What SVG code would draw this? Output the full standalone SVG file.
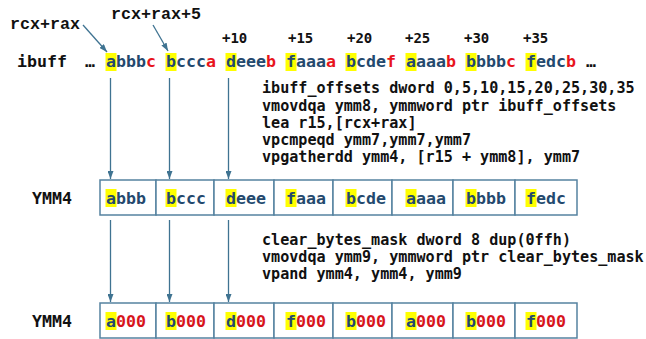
<svg xmlns="http://www.w3.org/2000/svg" width="646" height="339" viewBox="0 0 646 339">
  <defs>
    <marker id="arrow" viewBox="0 0 8 6" refX="8" refY="3" markerWidth="8" markerHeight="6" markerUnits="userSpaceOnUse" orient="auto">
      <path d="M0,0 L8,3 L0,6 Z" fill="#3f7391"/>
    </marker>
    <style>
      .lbl { font-family: "Liberation Mono", monospace; font-weight: bold; font-size: 16.7px; fill: #111; }
      .mono { font-family: "DejaVu Sans Mono", monospace; font-weight: bold; }
      .reg { font-size: 16.6px; fill: #111; }
      .off { font-size: 14px; fill: #111; }
      .code { font-size: 15.1px; fill: #111; }
      .data { font-size: 16.6px; fill: #24496e; }
      .red { fill: #e8141c; }
      .zero { fill: #d7141c; }
      .hl { fill: #ffff00; }
      .cell { fill: #fff; stroke: #5582a0; stroke-width: 1.5; }
      .conn { stroke: #3f7391; stroke-width: 1.3; fill: none; marker-end: url(#arrow); }
    </style>
  </defs>

  <!-- address labels -->
  <g id="label-rcx-rax"><text class="lbl" x="10" y="29">rcx+rax</text></g>
  <g id="label-rcx-rax-5"><text class="lbl" x="111" y="19">rcx+rax+5</text></g>

  <!-- offsets above the buffer -->
  <g id="offsets" class="mono off">
    <text x="222" y="43">+10</text>
    <text x="288" y="43">+15</text>
    <text x="347" y="43">+20</text>
    <text x="405" y="43">+25</text>
    <text x="464" y="43">+30</text>
    <text x="523" y="43">+35</text>
  </g>

  <!-- ibuff byte stream -->
  <g id="ibuff-label"><text class="mono reg" x="17" y="67">ibuff</text></g>
  <g id="ibuff-ellipsis-left"><text class="mono reg" x="85" y="67">…</text></g>
  <g id="ibuff-ellipsis-right"><text class="mono reg" x="586" y="67">…</text></g>

  <g id="ibuff-0"><rect class="hl" x="105.5" y="53" width="11" height="18"/><text class="mono data" x="106" y="67">abbb<tspan class="red">c</tspan></text></g>
  <g id="ibuff-5"><rect class="hl" x="165.5" y="53" width="11" height="18"/><text class="mono data" x="166" y="67">bccc<tspan class="red">a</tspan></text></g>
  <g id="ibuff-10"><rect class="hl" x="225.5" y="53" width="11" height="18"/><text class="mono data" x="226" y="67">deee<tspan class="red">b</tspan></text></g>
  <g id="ibuff-15"><rect class="hl" x="285.5" y="53" width="11" height="18"/><text class="mono data" x="286" y="67">faaa<tspan class="red">a</tspan></text></g>
  <g id="ibuff-20"><rect class="hl" x="345.5" y="53" width="11" height="18"/><text class="mono data" x="346" y="67">bcde<tspan class="red">f</tspan></text></g>
  <g id="ibuff-25"><rect class="hl" x="405.5" y="53" width="11" height="18"/><text class="mono data" x="406" y="67">aaaa<tspan class="red">b</tspan></text></g>
  <g id="ibuff-30"><rect class="hl" x="465.5" y="53" width="11" height="18"/><text class="mono data" x="466" y="67">bbbb<tspan class="red">c</tspan></text></g>
  <g id="ibuff-35"><rect class="hl" x="525.5" y="53" width="11" height="18"/><text class="mono data" x="526" y="67">fedc<tspan class="red">b</tspan></text></g>

  <!-- gather code -->
  <g id="code-gather" class="mono code">
    <text x="262" y="93">ibuff_offsets dword 0,5,10,15,20,25,30,35</text>
    <text x="262" y="111">vmovdqa ymm8, ymmword ptr ibuff_offsets</text>
    <text x="262" y="128">lea r15,[rcx+rax]</text>
    <text x="262" y="145">vpcmpeqd ymm7,ymm7,ymm7</text>
    <text x="262" y="162">vpgatherdd ymm4, [r15 + ymm8], ymm7</text>
  </g>

  <!-- YMM4 after gather -->
  <g id="ymm4-gathered">
    <text class="mono reg" x="32" y="204">YMM4</text>
    <rect class="cell" x="100" y="180" width="56" height="35"/>
    <rect class="cell" x="156" y="180" width="58" height="35"/>
    <rect class="cell" x="214" y="180" width="60" height="35"/>
    <rect class="cell" x="274" y="180" width="59" height="35"/>
    <rect class="cell" x="333" y="180" width="59" height="35"/>
    <rect class="cell" x="392" y="180" width="61" height="35"/>
    <rect class="cell" x="453" y="180" width="62" height="35"/>
    <rect class="cell" x="515" y="180" width="62" height="35"/>
    <rect class="hl" x="105.5" y="189" width="11" height="18"/>
    <rect class="hl" x="165.5" y="189" width="11" height="18"/>
    <rect class="hl" x="225.5" y="189" width="11" height="18"/>
    <rect class="hl" x="285.5" y="189" width="11" height="18"/>
    <rect class="hl" x="345.5" y="189" width="11" height="18"/>
    <rect class="hl" x="405.5" y="189" width="11" height="18"/>
    <rect class="hl" x="465.5" y="189" width="11" height="18"/>
    <rect class="hl" x="525.5" y="189" width="11" height="18"/>
    <g class="mono data">
      <text x="106" y="204">abbb</text>
      <text x="166" y="204">bccc</text>
      <text x="226" y="204">deee</text>
      <text x="286" y="204">faaa</text>
      <text x="346" y="204">bcde</text>
      <text x="406" y="204">aaaa</text>
      <text x="466" y="204">bbbb</text>
      <text x="526" y="204">fedc</text>
    </g>
  </g>

  <!-- mask code -->
  <g id="code-mask" class="mono code">
    <text x="262" y="245">clear_bytes_mask dword 8 dup(0ffh)</text>
    <text x="262" y="262">vmovdqa ymm9, ymmword ptr clear_bytes_mask</text>
    <text x="262" y="279">vpand ymm4, ymm4, ymm9</text>
  </g>

  <!-- YMM4 after masking -->
  <g id="ymm4-masked">
    <text class="mono reg" x="32" y="327">YMM4</text>
    <rect class="cell" x="100" y="303" width="56" height="35"/>
    <rect class="cell" x="156" y="303" width="58" height="35"/>
    <rect class="cell" x="214" y="303" width="60" height="35"/>
    <rect class="cell" x="274" y="303" width="59" height="35"/>
    <rect class="cell" x="333" y="303" width="59" height="35"/>
    <rect class="cell" x="392" y="303" width="61" height="35"/>
    <rect class="cell" x="453" y="303" width="62" height="35"/>
    <rect class="cell" x="515" y="303" width="62" height="35"/>
    <rect class="hl" x="105.5" y="312" width="11" height="18"/>
    <rect class="hl" x="165.5" y="312" width="11" height="18"/>
    <rect class="hl" x="225.5" y="312" width="11" height="18"/>
    <rect class="hl" x="285.5" y="312" width="11" height="18"/>
    <rect class="hl" x="345.5" y="312" width="11" height="18"/>
    <rect class="hl" x="405.5" y="312" width="11" height="18"/>
    <rect class="hl" x="465.5" y="312" width="11" height="18"/>
    <rect class="hl" x="525.5" y="312" width="11" height="18"/>
    <g class="mono data">
      <text x="106" y="327">a<tspan class="zero">000</tspan></text>
      <text x="166" y="327">b<tspan class="zero">000</tspan></text>
      <text x="226" y="327">d<tspan class="zero">000</tspan></text>
      <text x="286" y="327">f<tspan class="zero">000</tspan></text>
      <text x="346" y="327">b<tspan class="zero">000</tspan></text>
      <text x="406" y="327">a<tspan class="zero">000</tspan></text>
      <text x="466" y="327">b<tspan class="zero">000</tspan></text>
      <text x="526" y="327">f<tspan class="zero">000</tspan></text>
    </g>
  </g>

  <!-- connectors -->
  <g id="connectors">
    <line class="conn" x1="83" y1="25" x2="107" y2="52"/>
    <line class="conn" x1="153" y1="25" x2="168" y2="51"/>
    <line class="conn" x1="110.5" y1="78" x2="110.5" y2="179"/>
    <line class="conn" x1="169.5" y1="78" x2="169.5" y2="179"/>
    <line class="conn" x1="228.5" y1="78" x2="228.5" y2="179"/>
    <line class="conn" x1="110.5" y1="220" x2="110.5" y2="302"/>
    <line class="conn" x1="169.5" y1="220" x2="169.5" y2="302"/>
    <line class="conn" x1="228.5" y1="220" x2="228.5" y2="302"/>
  </g>
</svg>
